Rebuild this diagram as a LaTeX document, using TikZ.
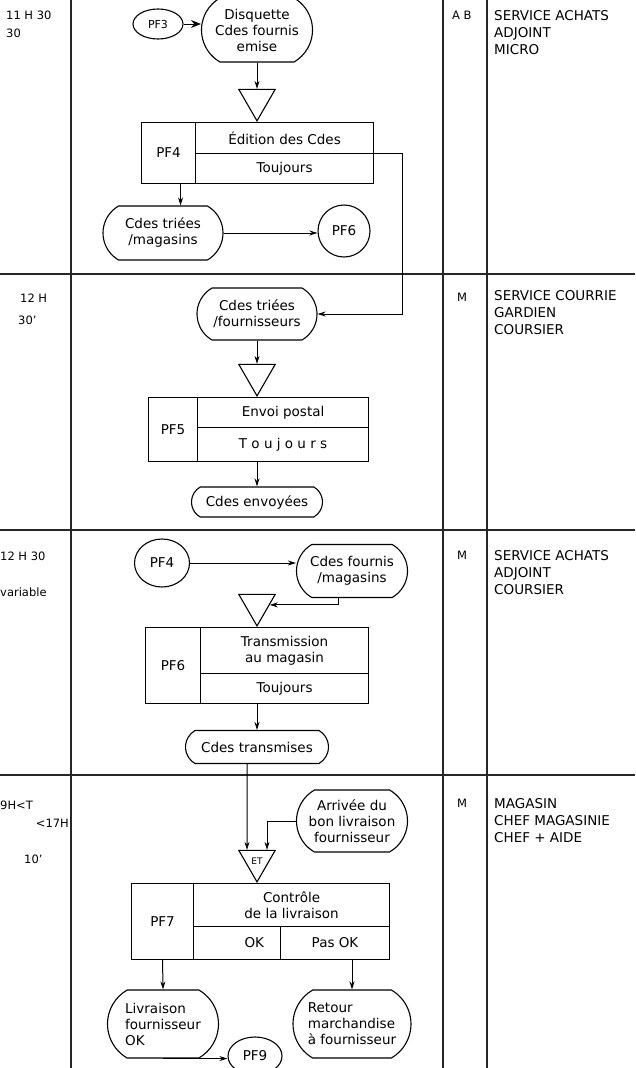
\documentclass[tikz,border=0pt]{standalone}
\usepackage{fontspec}
\setmainfont{DejaVu Sans}
\usetikzlibrary{shapes.geometric,shapes.misc,arrows.meta}

\begin{document}
\begin{tikzpicture}[
	x=1pt, y=-1pt,
	cadre/.style={ line width=1.1pt, black!85 },
	fleche/.style={ line width=1pt, -{Stealth[length=8pt,width=5pt]} },
	cellule/.style={ rectangle, draw, line width=1.1pt, anchor=north west, inner sep=0pt, align=center, font=\fontsize{13.5}{16}\selectfont },
	donnee/.style={ rounded rectangle, rounded rectangle arc length=120, draw, line width=1.1pt, inner sep=1pt, align=center, font=\fontsize{13.5}{16}\selectfont },
	renvoi/.style={ ellipse, draw, line width=1.1pt, inner sep=0pt, font=\fontsize{13.5}{16}\selectfont },
	attente/.style={ regular polygon, regular polygon sides=3, shape border rotate=180, draw, line width=1.1pt, minimum size=42pt, inner sep=0pt, font=\fontsize{9}{10}\selectfont },
	heure/.style={ anchor=west, inner sep=0pt, font=\fontsize{11.5}{13}\selectfont },
	acteur/.style={ anchor=north west, inner sep=0pt, align=left, font=\fontsize{13.5}{17}\selectfont }
]
\useasboundingbox (0,0) rectangle (635,1068);

% grid of the sheet
\foreach \x in {71,443,487} \draw[cadre] (\x,0) -- (\x,1068);
\foreach \y in {274,530,775} \draw[cadre] (0,\y) -- (635,\y);

% band 1: 11 H 30
\node at (6,15) (h1a) [heure] {11 H 30};
\node at (6,33) (h1b) [heure] {30};
\node at (452,15) (code1) [heure] {A B};
\node at (494,10) (acteur1) [acteur] {SERVICE ACHATS\\ADJOINT\\MICRO};

\node at (158,24) (pf3) [renvoi, minimum width=50pt, minimum height=30pt, font=\fontsize{11}{12}\selectfont] {PF3};
\node at (257,30) (disquette) [donnee, minimum width=113pt, minimum height=64pt] {Disquette\\Cdes fournis\\emise};
\node at (257,122) (att1) [attente, anchor=south] {};
\node at (141,122) (pf4g) [cellule, minimum width=54pt, minimum height=61pt] {PF4};
\node at (195,122) (pf4a) [cellule, minimum width=178pt, minimum height=31pt] {Édition des Cdes};
\node at (195,153) (pf4b) [cellule, minimum width=178pt, minimum height=30pt] {Toujours};
\node at (163,233) (triees1) [donnee, minimum width=122pt, minimum height=54pt] {Cdes triées\\/magasins};
\node at (344,231) (pf6) [renvoi, minimum size=52pt] {PF6};
\draw[line width=1pt, -{Stealth[length=10pt,width=8pt]}] (pf3.east) -- (pf3.east -| disquette.west);
\draw[fleche] (disquette.south) -- (att1.north);
\draw[fleche] ([xshift=12pt]pf4g.south) -- ([xshift=12pt]pf4g.south |- triees1.north);
\draw[fleche] (triees1.east) -- (triees1.east -| pf6.west);

% band 2: 12 H
\node at (20,298) (h2a) [heure] {12 H};
\node at (18,320) (h2b) [heure] {30'};
\node at (457,297) (code2) [heure] {M};
\node at (494,290) (acteur2) [acteur] {SERVICE COURRIE\\GARDIEN\\COURSIER};

\node at (257,314) (triees2) [donnee, minimum width=122pt, minimum height=52pt] {Cdes triées\\/fournisseurs};
\node at (257,397) (att2) [attente, anchor=south] {};
\node at (148,397) (pf5g) [cellule, minimum width=49pt, minimum height=64pt] {PF5};
\node at (197,397) (pf5a) [cellule, minimum width=171pt, minimum height=30pt] {Envoi postal};
\node at (197,427) (pf5b) [cellule, minimum width=171pt, minimum height=34pt] {T o u j o u r s};
\node at (257,502) (envoyees) [donnee, minimum width=133pt, minimum height=30pt] {Cdes envoyées};
\coordinate (coude1) at (402,153);
\draw[fleche] (pf4b.north east) -- (coude1) |- (triees2.east);
\draw[fleche] (triees2.south) -- (att2.north);
\draw[fleche] (envoyees.north |- pf5b.south) -- (envoyees.north);

% band 3: 12 H 30
\node at (0,556) (h3a) [heure] {12 H 30};
\node at (0,592) (h3b) [heure] {variable};
\node at (457,555) (code3) [heure] {M};
\node at (494,550) (acteur3) [acteur] {SERVICE ACHATS\\ADJOINT\\COURSIER};

\node at (162,563) (pf4bis) [renvoi, minimum width=55pt, minimum height=48pt] {PF4};
\node at (352,571) (fournis) [donnee, minimum width=113pt, minimum height=53pt] {Cdes fournis\\/magasins};
\node at (257,627) (att3) [attente, anchor=south] {};
\node at (145,627) (pf6g) [cellule, minimum width=55pt, minimum height=76pt] {PF6};
\node at (200,627) (pf6a) [cellule, minimum width=168pt, minimum height=46pt] {Transmission\\au magasin};
\node at (200,673) (pf6b) [cellule, minimum width=168pt, minimum height=30pt] {Toujours};
\node at (257,747) (transmises) [donnee, minimum width=145pt, minimum height=33pt] {Cdes transmises};
\draw[fleche] (pf4bis.east) -- (pf4bis.east -| fournis.west);
\draw[fleche] ([xshift=-14pt]fournis.south) |- (att3.east);
\draw[fleche] (transmises.north |- pf6b.south) -- (transmises.north);

% band 4: 9H < T < 17H
\node at (0,805) (h4a) [heure] {9H<T};
\node at (69,823) (h4b) [heure, anchor=east] {<17H};
\node at (24,859) (h4c) [heure] {10'};
\node at (457,803) (code4) [heure] {M};
\node at (494,798) (acteur4) [acteur] {MAGASIN\\CHEF MAGASINIE\\CHEF + AIDE};

\node at (352,821) (arrivee) [donnee, minimum width=113pt, minimum height=62pt] {Arrivée du\\bon livraison\\fournisseur};
\node at (257,883) (et) [attente, anchor=south] {ET};
\node at (131,883) (pf7g) [cellule, minimum width=62pt, minimum height=76pt] {PF7};
\node at (193,883) (pf7a) [cellule, minimum width=196pt, minimum height=43pt] {Contrôle\\de la livraison};
\node at (193,926) (pf7b) [cellule, minimum width=87pt, minimum height=33pt, text width=54pt, align=right] {OK};
\node at (280,926) (pf7c) [cellule, minimum width=109pt, minimum height=33pt] {Pas OK};
\node at (163,1024) (livraison) [donnee, minimum width=113pt, minimum height=68pt, align=left] {Livraison\\fournisseur\\OK};
\node at (352,1024) (retour) [donnee, minimum width=120pt, minimum height=68pt, align=left] {Retour\\marchandise\\à fournisseur};
\node at (255,1056) (pf9) [renvoi, minimum width=54pt, minimum height=38pt] {PF9};
\draw[fleche] ([xshift=-10pt]transmises.south) -- ([xshift=-10pt]et.north);
\draw[fleche] (arrivee.west) -| ([xshift=10pt]et.north);
\draw[fleche] (pf7g.south) -- (livraison.north);
\draw[fleche] (retour.north |- pf7c.south) -- (retour.north);
\draw[fleche] (livraison.south) -- (livraison.south -| pf9.west);

\end{tikzpicture}
\end{document}
